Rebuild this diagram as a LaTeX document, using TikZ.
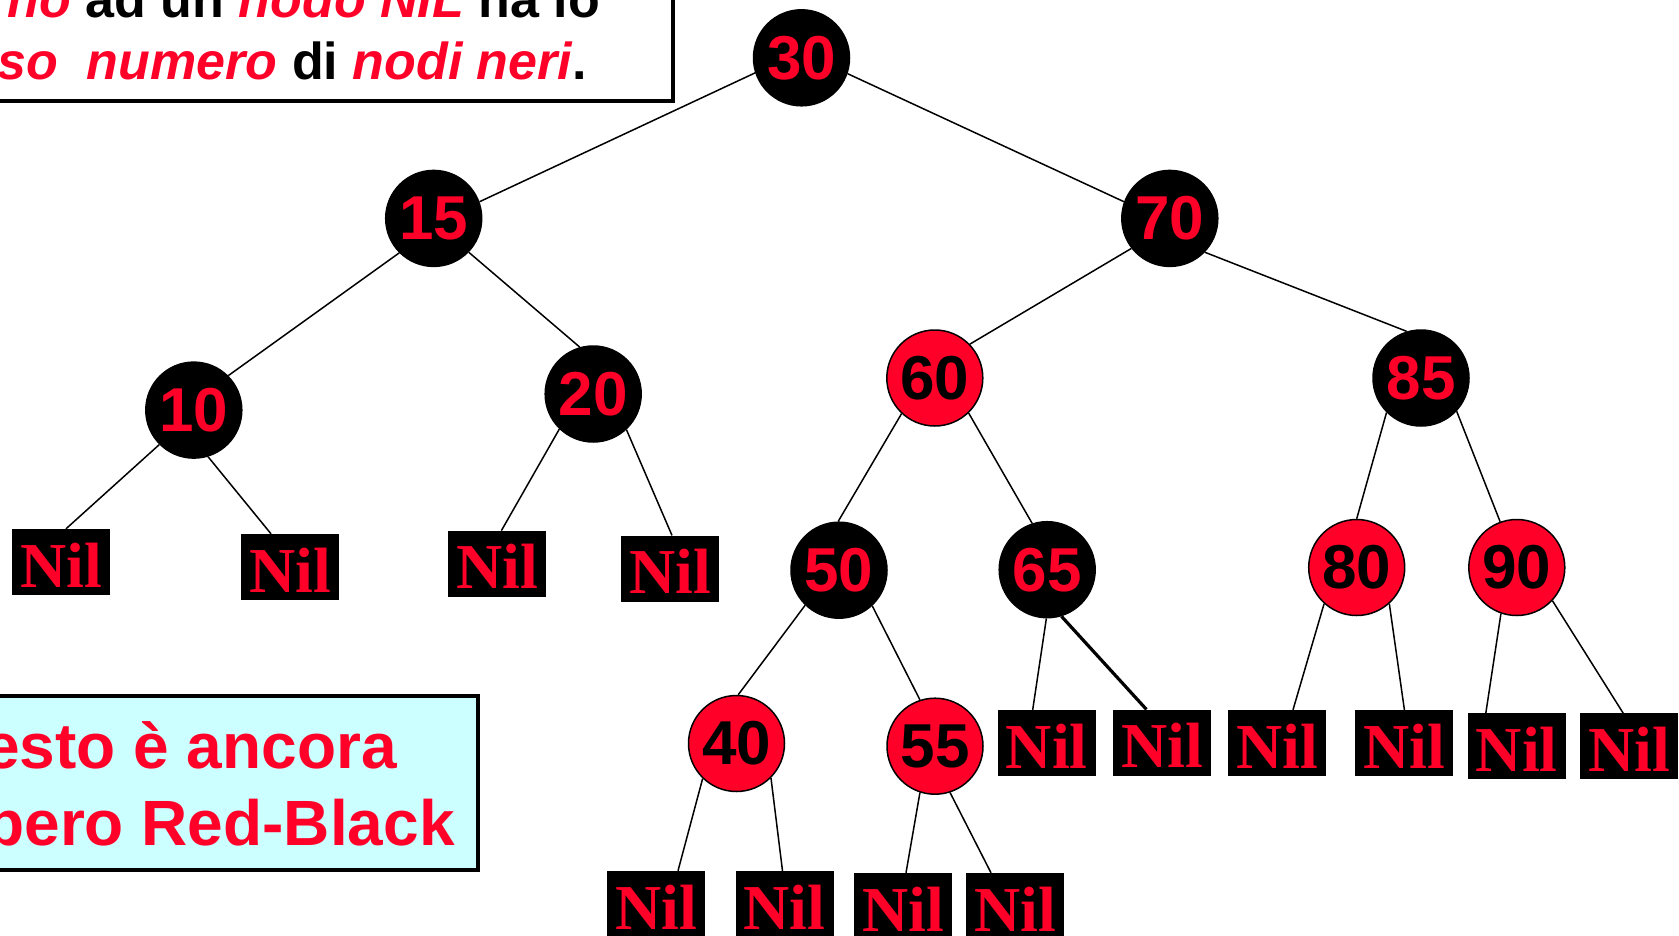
\documentclass[tikz,border=0pt]{standalone}
\usepackage{fontspec}
\setmainfont{Liberation Sans}
\newfontfamily\nilfont{Liberation Serif}
\definecolor{rbred}{RGB}{255,0,40}
\definecolor{notecyan}{RGB}{204,255,255}

\tikzset{
  keyfont/.style={font=\fontsize{62pt}{62pt}\selectfont\bfseries},
  blacknode/.style={circle, fill=black, draw=black, line width=1.5pt,
    minimum size=96pt, inner sep=0pt, text=rbred, keyfont},
  rednode/.style={circle, fill=rbred, draw=black, line width=1.5pt,
    minimum size=96pt, inner sep=0pt, text=black, keyfont},
  nilbox/.style={rectangle, fill=black, minimum width=98pt, minimum height=66pt,
    inner sep=0pt, text=rbred, text height=50pt, text depth=0pt,
    font=\nilfont\fontsize{64pt}{64pt}\selectfont\bfseries},
  link/.style={line width=1.5pt, draw=black},
  thicklink/.style={line width=3.2pt, draw=black},
  notetext/.style={anchor=base east, inner sep=0pt},
}

\begin{document}
\begin{tikzpicture}[x=1pt, y=-1pt]
\useasboundingbox (0,0) rectangle (1679,935);
\fill[white] (0,0) rectangle (1679,935);

% property note, top left
\draw[line width=3.5pt, fill=white] (-20,-20) rectangle (673,101);
\node[notetext, font=\fontsize{52pt}{52pt}\selectfont\bfseries] (propA) at (600,17)
  {\textcolor{rbred}{\itshape no} ad un \textcolor{rbred}{\itshape nodo NIL} ha lo};
\node[notetext, font=\fontsize{52pt}{52pt}\selectfont\bfseries] (propB) at (587,79)
  {\textcolor{rbred}{\itshape so\ \ numero} di \textcolor{rbred}{\itshape nodi neri}.};

% remark, bottom left
\draw[line width=3.5pt, fill=notecyan] (-20,696) rectangle (478,870);
\node[notetext, text=rbred, font=\fontsize{64pt}{64pt}\selectfont\bfseries] (remA) at (397,768)
  {esto è ancora};
\node[notetext, text=rbred, font=\fontsize{64pt}{64pt}\selectfont\bfseries] (remB) at (455,845)
  {bero Red-Black};

% keys
\node[blacknode] (n30) at (801.5,57.8) {30};
\node[blacknode] (n15) at (433.7,218.4) {15};
\node[blacknode] (n70) at (1169.8,218.4) {70};
\node[blacknode] (n10) at (193.8,410.1) {10};
\node[blacknode] (n20) at (593.2,394) {20};
\node[rednode]   (n60) at (934.8,378) {60};
\node[blacknode] (n85) at (1421,378) {85};
\node[blacknode] (n50) at (839,570.2) {50};
\node[blacknode] (n65) at (1047.2,569.7) {65};
\node[rednode]   (n80) at (1356.7,567.5) {80};
\node[rednode]   (n90) at (1516.8,567.5) {90};
\node[rednode]   (n40) at (736.5,743.5) {40};
\node[rednode]   (n55) at (935,746.2) {55};

% sentinel leaves
\node[nilbox] (nil1)  at (61,562) {Nil};
\node[nilbox] (nil2)  at (290,567) {Nil};
\node[nilbox] (nil3)  at (497.4,563.8) {Nil};
\node[nilbox] (nil4)  at (670,568.6) {Nil};
\node[nilbox] (nil5)  at (1046.7,743) {Nil};
\node[nilbox] (nil6)  at (1162.4,742.6) {Nil};
\node[nilbox] (nil7)  at (1277,743) {Nil};
\node[nilbox] (nil8)  at (1404.4,743) {Nil};
\node[nilbox] (nil9)  at (1516.8,746.4) {Nil};
\node[nilbox] (nil10) at (1629.2,746.4) {Nil};
\node[nilbox] (nil11) at (656,904) {Nil};
\node[nilbox] (nil12) at (784.5,904) {Nil};
\node[nilbox] (nil13) at (903,906) {Nil};
\node[nilbox] (nil14) at (1015,906) {Nil};

% tree edges
\draw[link] (n30.198) -- (n15.20);
\draw[link] (n30.341) -- (n70.160);
\draw[link] (n15.225) -- (n10.45);
\draw[link] (n15.316) -- (n20.106);
\draw[link] (n70.218) -- (n60.44);
\draw[link] (n70.316) -- (n85.107);
\draw[link] (n10.225) -- ([xshift=5pt]nil1.north);
\draw[link] (n10.287) -- ([xshift=-19pt]nil2.north);
\draw[link] (n20.226) -- ([xshift=4pt]nil3.north);
\draw[link] (n20.313) -- ([xshift=2pt]nil4.north);
\draw[link] (n60.227) -- (n50.91);
\draw[link] (n60.314) -- (n65.108);
\draw[link] (n85.225) -- (n80.90);
\draw[link] (n85.317) -- (n90.110);
\draw[link] (n50.226) -- (n40.88);
\draw[link] (n50.313) -- (n55.108);
\draw[link] (n65.269) -- ([xshift=-14pt]nil5.north);
\draw[thicklink] (n65.287) -- ([xshift=-16pt]nil6.north);
\draw[link] (n80.228) -- ([xshift=16pt]nil7.north);
\draw[link] (n80.312) -- (nil8.north);
\draw[link] (n90.251) -- ([xshift=-31pt]nil9.north);
\draw[link] (n90.317) -- ([xshift=-6pt]nil10.north);
\draw[link] (n40.226) -- ([xshift=22pt]nil11.north);
\draw[link] (n40.315) -- ([xshift=-2pt]nil12.north);
\draw[link] (n55.252) -- ([xshift=3pt]nil13.north);
\draw[link] (n55.288) -- ([xshift=-24pt]nil14.north);
\end{tikzpicture}
\end{document}
